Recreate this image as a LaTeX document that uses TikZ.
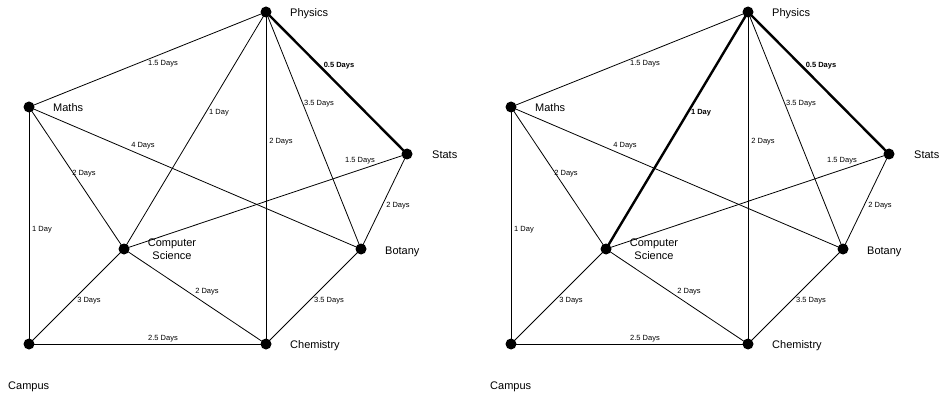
\documentclass[tikz,border=0pt]{standalone}
\usepackage{fontspec}
\setmainfont{Liberation Sans}
\begin{document}
\begin{tikzpicture}[x=1pt,y=-1pt,
  stop/.style={circle,fill=black,inner sep=0pt,minimum size=11pt},
  place/.style={font=\fontsize{11}{13}\selectfont,inner sep=0pt,anchor=base west},
  road/.style={line width=0.8pt},
  fast/.style={line width=2.4pt},
  days/.style={font=\fontsize{7.5}{9}\selectfont,inner sep=0pt},
  fastdays/.style={font=\fontsize{7.5}{9}\selectfont\bfseries,inner sep=0pt}]
\useasboundingbox (0,0) rectangle (941,398);

% #1 name prefix, #2 horizontal offset, #3 style of the Physics--CS road, #4 style of its label
\newcommand\roadmap[4]{%
\begin{scope}[xshift=#2]
  % stops
  \node[stop] (#1phy) at (266,12) {};
  \node[stop] (#1mat) at (29,107) {};
  \node[stop] (#1sta) at (407,154) {};
  \node[stop] (#1cs)  at (124,249) {};
  \node[stop] (#1bot) at (361,249) {};
  \node[stop] (#1cam) at (29,344) {};
  \node[stop] (#1che) at (266,344) {};
  % stop names
  \node[place] (#1phyT) at (290,17)  {Physics};
  \node[place] (#1matT) at (53,112)  {Maths};
  \node[place] (#1staT) at (432,159) {Stats};
  \node[place,anchor=center,align=center] (#1csT) at (172,249) {Computer\\Science};
  \node[place] (#1botT) at (385,254) {Botany};
  \node[place] (#1cheT) at (290,348) {Chemistry};
  \node[place] (#1camT) at (8,389)   {Campus};
  % roads
  \draw[road] (#1mat.center) -- (#1phy.center);
  \draw[fast] (#1phy.center) -- (#1sta.center);
  \draw[#3]   (#1phy.center) -- (#1cs.center);
  \draw[road] (#1phy.center) -- (#1bot.center);
  \draw[road] (#1phy.center) -- (#1che.center);
  \draw[road] (#1mat.center) -- (#1bot.center);
  \draw[road] (#1mat.center) -- (#1cs.center);
  \draw[road] (#1mat.center) -- (#1cam.center);
  \draw[road] (#1sta.center) -- (#1cs.center);
  \draw[road] (#1sta.center) -- (#1bot.center);
  \draw[road] (#1cam.center) -- (#1cs.center);
  \draw[road] (#1cs.center)  -- (#1che.center);
  \draw[road] (#1che.center) -- (#1bot.center);
  \draw[road] (#1cam.center) -- (#1che.center);
  % travel times
  \node[days]     (#1dMP) at (163,64)  {1.5 Days};
  \node[fastdays] (#1dPS) at (339,66)  {0.5 Days};
  \node[#4]       (#1dPC) at (219,113) {1 Day};
  \node[days]     (#1dPB) at (319,104) {3.5 Days};
  \node[days]     (#1dPH) at (281,142) {2 Days};
  \node[days]     (#1dMB) at (143,146) {4 Days};
  \node[days]     (#1dMC) at (84,174)  {2 Days};
  \node[days]     (#1dSC) at (360,161) {1.5 Days};
  \node[days]     (#1dSB) at (398,206) {2 Days};
  \node[days]     (#1dMK) at (42,230)  {1 Day};
  \node[days]     (#1dKC) at (89,301)  {3 Days};
  \node[days]     (#1dCH) at (207,292) {2 Days};
  \node[days]     (#1dHB) at (329,301) {3.5 Days};
  \node[days]     (#1dKH) at (163,339) {2.5 Days};
\end{scope}}

\roadmap{a}{0pt}{road}{days}
\roadmap{b}{482pt}{fast}{fastdays}
\end{tikzpicture}
\end{document}
